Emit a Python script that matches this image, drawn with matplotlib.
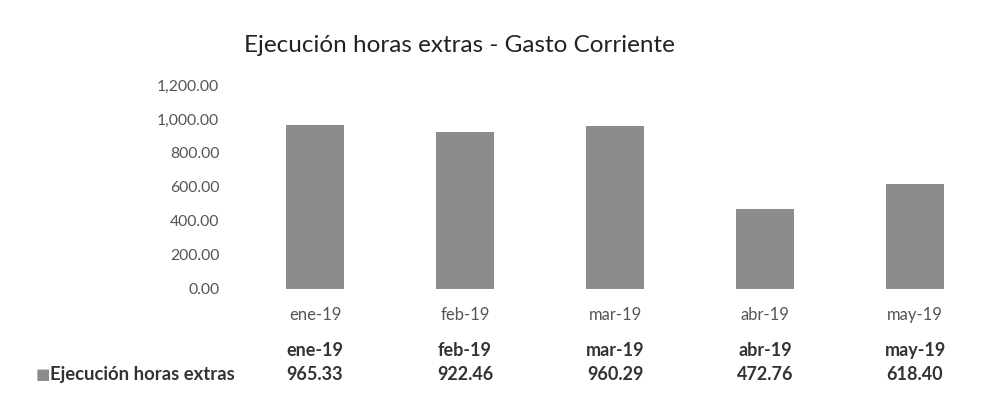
import matplotlib
matplotlib.use("Agg")
import matplotlib.pyplot as plt
import numpy as np

# Monthly overtime spending
months = ["ene-19", "feb-19", "mar-19", "abr-19", "may-19"]
values = [965.33, 922.46, 960.29, 472.76, 618.40]
series_name = "Ejecución horas extras"
title = "Ejecución horas extras - Gasto Corriente"
yticks = [0, 200, 400, 600, 800, 1000, 1200]

plt.rcParams["font.family"] = ["Lato", "DejaVu Sans"]

fig = plt.figure(figsize=(9.96, 4.08), dpi=100)
ax = fig.add_axes([0.241, 0.2917, 0.753, 0.5])

x = np.arange(len(months))
ax.bar(x, values, width=0.39, color="#8c8c8c")
ax.set_xlim(-0.5, len(months) - 0.5)
ax.set_ylim(0, 1200)
ax.set_yticks(yticks)
ax.set_yticklabels([f"{v:,.2f}" for v in yticks], fontsize=11.3, color="#555555")
ax.set_xticks(x)
ax.set_xticklabels(months, fontsize=12, color="#555555")
ax.tick_params(length=0, pad=13)
ax.tick_params(axis="y", pad=15)
for s in ax.spines.values():
    s.set_visible(False)

fig.text(0.461, 0.888, title, ha="center", va="center", fontsize=17.5, color="#222222")

# data table under the chart
for i, (m, v) in enumerate(zip(months, values)):
    xf = 0.241 + 0.753 * (i + 0.5) / len(months)
    fig.text(xf, 0.142, m, ha="center", va="center", fontsize=13,
             fontweight="bold", color="#333333")
    fig.text(xf, 0.081, f"{v:.2f}", ha="center", va="center", fontsize=13,
             fontweight="bold", color="#333333")
fig.text(0.036, 0.081, "■", ha="left", va="center", fontsize=11, color="#8c8c8c")
fig.text(0.05, 0.081, series_name, ha="left", va="center", fontsize=13.3,
         fontweight="bold", color="#333333")

fig.savefig("out.png", dpi=100, facecolor="white")
